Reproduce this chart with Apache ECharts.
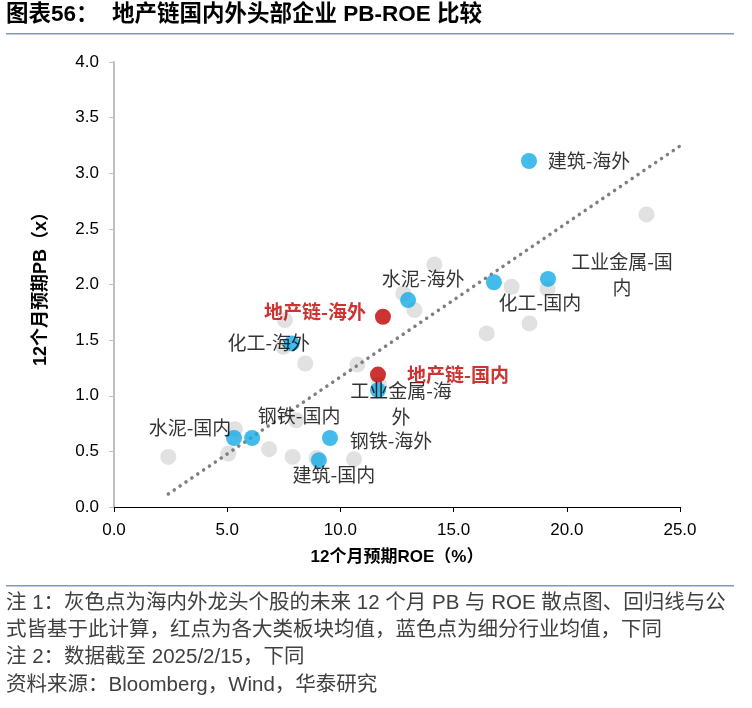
<!DOCTYPE html>
<html><head><meta charset="utf-8">
<script src="https://cdn.jsdelivr.net/npm/echarts@6/dist/echarts.min.js"></script>
<style>html,body{margin:0;padding:0;background:#fff}#c{width:752px;height:708px}</style>
</head><body><div id="c"></div>
<script>
// ---- data ----
const grayROE = [2.40, 5.34, 5.05, 6.85, 7.89, 8.05, 10.60, 8.45, 10.75, 7.55, 7.48, 12.78, 13.27, 14.15, 16.46, 17.56, 18.35, 19.15, 23.52, 8.95, 11.70];
const grayPB  = [0.45, 0.70, 0.48, 0.52, 0.45, 0.78, 0.43, 1.29, 1.28, 1.68, 1.44, 1.92, 1.77, 2.18, 1.56, 1.98, 1.65, 1.96, 2.63, 0.44, 1.10];

const blueNames = ['建筑-海外', '工业金属-国内', '化工-国内', '水泥-海外', '化工-海外', '工业金属-海外', '水泥-国内', '钢铁-国内', '钢铁-海外', '建筑-国内'];
const blueROE   = [18.33, 19.17, 16.78, 12.99, 7.85, 11.66, 5.30, 6.10, 9.54, 9.05];
const bluePB    = [3.11, 2.05, 2.02, 1.86, 1.47, 1.05, 0.62, 0.62, 0.62, 0.42];

const redNames = ['地产链-海外', '地产链-国内'];
const redROE   = [11.88, 11.66];
const redPB    = [1.71, 1.19];

const trendROE = [2.4, 25.0];
const trendPB  = [0.117, 3.245];

const xTicks = [0, 5, 10, 15, 20, 25];
const yTicks = [0, 0.5, 1, 1.5, 2, 2.5, 3, 3.5, 4];

const titleText = '图表56：';
const titleRest = '地产链国内外头部企业 PB-ROE 比较';
const notes = [
  '注 1：灰色点为海内外龙头个股的未来 12 个月 PB 与 ROE 散点图、回归线与公',
  '式皆基于此计算，红点为各大类板块均值，蓝色点为细分行业均值，下同',
  '注 2：数据截至 2025/2/15，下同',
  '资料来源：Bloomberg，Wind，华泰研究'
];

// ---- label layout (offsets in px relative to point) ----
const labelLayout = {
  '建筑-海外': {offset: [60, 0]},
  '工业金属-国内': {offset: [74, -4], text: '工业金属-国\n内'},
  '化工-国内': {offset: [46, 21]},
  '水泥-海外': {offset: [15, -21]},
  '化工-海外': {offset: [-23, -1]},
  '工业金属-海外': {offset: [23, 14], text: '工业金属-海\n外'},
  '水泥-国内': {offset: [-44, -10]},
  '钢铁-国内': {offset: [47, -22]},
  '钢铁-海外': {offset: [61, 3]},
  '建筑-国内': {offset: [15, 15]},
  '地产链-海外': {offset: [-68, -5]},
  '地产链-国内': {offset: [80, 0]}
};

const labFont = '"Noto Sans CJK SC", sans-serif';
function mk(names, xs, ys, color, bold) {
  return names.map((n, i) => {
    const L = labelLayout[n] || {offset: [0, 0]};
    return {
      name: n,
      value: [xs[i], ys[i]],
      label: {
        show: true, position: 'inside', offset: L.offset,
        formatter: L.text || n, color: color,
        fontFamily: labFont, fontSize: 19, fontWeight: bold ? 'bold' : 'normal',
        lineHeight: 26, align: 'center'
      }
    };
  });
}

const chart = echarts.init(document.getElementById('c'), null, {renderer: 'canvas'});
const tickFont = '"Liberation Sans", Arial, sans-serif';
const nameFont = '"Liberation Sans", "Noto Sans CJK SC", sans-serif';
const noteFont = '20.5px "Liberation Sans", "Noto Sans CJK SC", sans-serif';
const titleFont = 'bold 22.5px "Liberation Sans", "Noto Sans CJK SC", sans-serif';
chart.setOption({
  animation: false,
  backgroundColor: '#fff',
  grid: {left: 114, right: 72, top: 62, bottom: 201, containLabel: false},
  xAxis: {
    type: 'value', min: 0, max: 25, interval: 5,
    name: '12个月预期ROE（%）', nameLocation: 'middle', nameGap: 42,
    nameTextStyle: {fontFamily: nameFont, fontWeight: 'bold', fontSize: 17, color: '#000'},
    axisLine: {show: true, lineStyle: {color: '#000', width: 1}},
    axisTick: {show: true, inside: false, length: 5, lineStyle: {color: '#000'}},
    axisLabel: {fontFamily: tickFont, fontSize: 17, color: '#000', margin: 15, formatter: v => v.toFixed(1)},
    splitLine: {show: false}
  },
  yAxis: {
    type: 'value', min: 0, max: 4, interval: 0.5,
    name: '12个月预期PB（x）', nameLocation: 'middle', nameGap: 64, nameRotate: 90,
    nameTextStyle: {fontFamily: nameFont, fontWeight: 'bold', fontSize: 18, color: '#000'},
    axisLine: {show: true, lineStyle: {color: '#bfbfbf', width: 2}},
    axisTick: {show: true, inside: false, length: 5, lineStyle: {color: '#bfbfbf'}},
    axisLabel: {fontFamily: tickFont, fontSize: 17, color: '#000', margin: 15, formatter: v => v.toFixed(1)},
    splitLine: {show: false}
  },
  series: [
    {
      type: 'scatter', name: 'gray', z: 2,
      symbolSize: 16,
      itemStyle: {color: '#d9d9d9'},
      data: grayROE.map((x, i) => [x, grayPB[i]])
    },
    {
      type: 'line', name: 'trend', z: 3,
      symbol: 'none',
      lineStyle: {color: '#7f7f7f', width: 3.5, type: [0.1, 7], cap: 'round'},
      data: trendROE.map((x, i) => [x, trendPB[i]])
    },
    {
      type: 'scatter', name: 'blue', z: 4,
      symbolSize: 16,
      itemStyle: {color: '#14aae6'},
      data: mk(blueNames, blueROE, bluePB, '#000', false)
    },
    {
      type: 'scatter', name: 'red', z: 5,
      symbolSize: 16,
      itemStyle: {color: '#c00000'},
      data: mk(redNames, redROE, redPB, '#c00000', true)
    }
  ],
  graphic: [
    {type: 'text', left: 6, top: 4, style: {text: titleText, font: titleFont, fill: '#000'}},
    {type: 'text', left: 112, top: 4, style: {text: titleRest, font: titleFont, fill: '#000'}},
    {type: 'rect', shape: {x: 6, y: 33, width: 728, height: 1.5}, style: {fill: '#8398b2'}},
    {type: 'rect', shape: {x: 6, y: 585, width: 728, height: 1.5}, style: {fill: '#8398b2'}},
    {type: 'text', left: 6, top: 593, style: {text: notes[0], font: noteFont, fill: '#404040'}},
    {type: 'text', left: 6, top: 620, style: {text: notes[1], font: noteFont, fill: '#404040'}},
    {type: 'text', left: 6, top: 647, style: {text: notes[2], font: noteFont, fill: '#404040'}},
    {type: 'text', left: 6, top: 675, style: {text: notes[3], font: noteFont, fill: '#404040'}}
  ]
});
</script>
</body></html>
